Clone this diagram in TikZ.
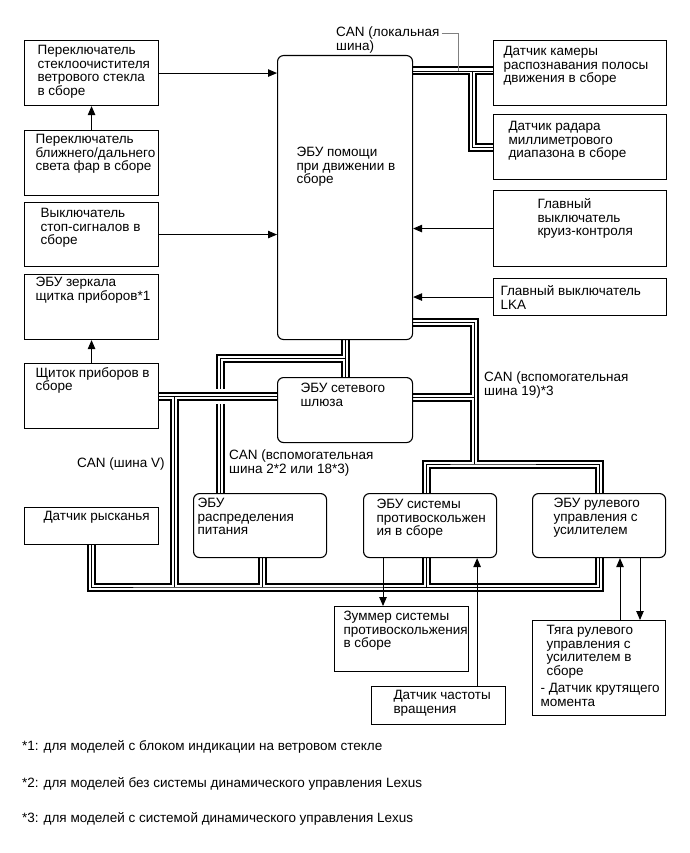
\documentclass[tikz,border=0pt]{standalone}
\usepackage{fontspec}
\setmainfont{Liberation Sans}
\usetikzlibrary{arrows.meta}
\pgfdeclarelayer{bg}
\pgfsetlayers{bg,main}

% box text: width, height, left pad, top pad, lines
\newcommand\blk[5]{\parbox[t][#2pt][t]{#1pt}{\raggedright\leftskip=#3pt\relax\vspace*{#4pt}#5}}

\tikzset{
  box/.style={draw,line width=1.1pt,anchor=north west,inner sep=0pt},
  rbox/.style={box,rounded corners=6pt},
  arr/.style={line width=0.9pt,-{Triangle[length=9pt,width=7.5pt]}},
  busa/.style={line width=9pt,line join=miter},
  busb/.style={white,line width=5pt,line join=miter},
  busc/.style={line width=0.9pt,line join=miter},
  halo/.style={preaction={draw=white,line width=15pt}},
  lbl/.style={anchor=base west,inner sep=0pt},
  lbl2/.style={anchor=north west,align=left,inner sep=0pt},
  lead/.style={draw=black!50,line width=0.9pt}
}

\begin{document}
\begin{tikzpicture}[x=1pt,y=-1pt,font=\fontsize{13.5}{13.5}\selectfont]
\useasboundingbox (0,0) rectangle (689,853);
\def\bus#1#2{\draw[busa,#1] #2; \draw[busb] #2; \draw[busc] #2;}

% left column
\node[box] at (24,40) (wiper) {\blk{134}{65}{13}{5}{Переключатель\\стеклоочистителя\\ветрового стекла\\в сборе}};
\node[box] at (24,130) (beam) {\blk{134}{65}{11}{4}{Переключатель\\ближнего/дальнего\\света фар в сборе}};
\node[box] at (24,202) (stop) {\blk{134}{64}{16}{6}{Выключатель\\стоп-сигналов в\\сборе}};
\node[box] at (24,274) (mirror) {\blk{134}{65}{11}{3}{ЭБУ зеркала\\щитка приборов*1}};
\node[box] at (24,363) (meter) {\blk{134}{65}{11}{4}{Щиток приборов в\\сборе}};
\node[box] at (24,507) (yaw) {\blk{134}{37}{19}{4}{Датчик рысканья}};

% middle
\node[rbox] at (277,55) (dss) {\blk{135}{284}{19}{92}{ЭБУ помощи\\при движении в\\сборе}};
\node[rbox] at (277,377) (gw) {\blk{135}{65}{23}{6}{ЭБУ сетевого\\шлюза}};

% right column
\node[box] at (493,40) (cam) {\blk{173}{65}{10}{6}{Датчик камеры\\распознавания полосы\\движения в сборе}};
\node[box] at (493,114) (radar) {\blk{173}{65}{15}{7}{Датчик радара\\миллиметрового\\диапазона в сборе}};
\node[box] at (493,190) (cruise) {\blk{173}{76}{44}{8}{Главный\\выключатель\\круиз-контроля}};
\node[box] at (493,278) (lka) {\blk{173}{37}{7}{7}{Главный выключатель\\LKA}};

% lower row
\node[rbox] at (193,493) (pwr) {\blk{133}{64}{4}{5}{ЭБУ\\распределения\\питания}};
\node[rbox] at (363,493) (pcs) {\blk{133}{64}{13}{6}{ЭБУ системы\\противоскольжен\\ия в сборе}};
\node[rbox] at (532,493) (eps) {\blk{133}{64}{21}{5}{ЭБУ рулевого\\управления с\\усилителем}};
\node[box] at (334,606) (buz) {\blk{134}{65}{9}{5}{Зуммер системы\\противоскольжения\\в сборе}};
\node[box] at (371,686) (spd) {\blk{134}{38}{22}{4}{Датчик частоты\\вращения}};
\node[box] at (532,620) (gear) {\blk{133}{95}{14}{5}{Тяга рулевого\\управления с\\усилителем в\\сборе\\[4pt]\hspace*{-6pt}- Датчик крутящего\\\hspace*{-6pt}момента}};

% bus labels
\node[lbl2] at (336,27) (lcan) {CAN (локальная\\шина)};
\node[lbl2] at (484,372) (can19) {CAN (вспомогательная\\шина 19)*3};
\node[lbl2] at (77,458) (canv) {CAN (шина V)};
\node[lbl2] at (229,450) (can2) {CAN (вспомогательная\\шина 2*2 или 18*3)};

% footnotes
\node[lbl] at (22,750) (fn1) {*1: для моделей с блоком индикации на ветровом стекле};
\node[lbl] at (22,787) (fn2) {*2: для моделей без системы динамического управления Lexus};
\node[lbl] at (22,822) (fn3) {*3: для моделей с системой динамического управления Lexus};

% bus points
\coordinate (l1) at (472,71);
\coordinate (b19) at (474,322);
\coordinate (g19) at (474,397);
\coordinate (s19) at (474,464);
\coordinate (bB) at (344.5,358);
\coordinate (cV) at (174,587);
\coordinate (p1) at ([xshift=2pt]pwr.south);
\coordinate (p2) at ([xshift=-4pt]pcs.south);
\coordinate (p3) at ([xshift=-4pt]pcs.north);
\coordinate (p4) at ([xshift=-40pt]pwr.north);

\begin{pgfonlayer}{bg}
\bus{}{(dss.east |- l1) -- (cam.west |- l1) (l1) |- (radar.west)}
\bus{}{(dss.east |- b19) -| (s19) (gw.east |- g19) -- (g19) (p3) |- (s19) -| (eps.north)}
\bus{}{(dss.south) -- (gw.north) (bB) -| (p4)}
\bus{halo}{(meter.east) -- (meter.east -| gw.west) (meter.east -| cV) -- (cV) (yaw.south) |- (cV) -| (eps.south) (p1) -- (p1 |- cV) (p2) -- (p2 |- cV)}
\end{pgfonlayer}

% leader of the local bus label
\coordinate (ld) at (458,71);
\draw[lead] ([xshift=2pt,yshift=-6pt]lcan.north east) -| (ld);

% signal lines
\draw[arr] (wiper.east) -- (wiper.east -| dss.west);
\draw[arr] (beam.north) -- (wiper.south);
\draw[arr] (stop.east) -- (stop.east -| dss.west);
\draw[arr] (meter.north) -- (mirror.south);
\draw[arr] (cruise.west) -- (cruise.west -| dss.east);
\draw[arr] (lka.west) -- (lka.west -| dss.east);
\coordinate (a1) at ([xshift=20pt]pcs.south west);
\coordinate (a2) at ([xshift=-20pt]pcs.south east);
\coordinate (a3) at ([xshift=88pt]eps.south west);
\coordinate (a4) at ([xshift=108pt]eps.south west);
\draw[arr] (a1) -- (a1 |- buz.north);
\draw[arr] (a2 |- spd.north) -- (a2);
\draw[arr] (a3 |- gear.north) -- (a3);
\draw[arr] (a4) -- (a4 |- gear.north);
\end{tikzpicture}
\end{document}
